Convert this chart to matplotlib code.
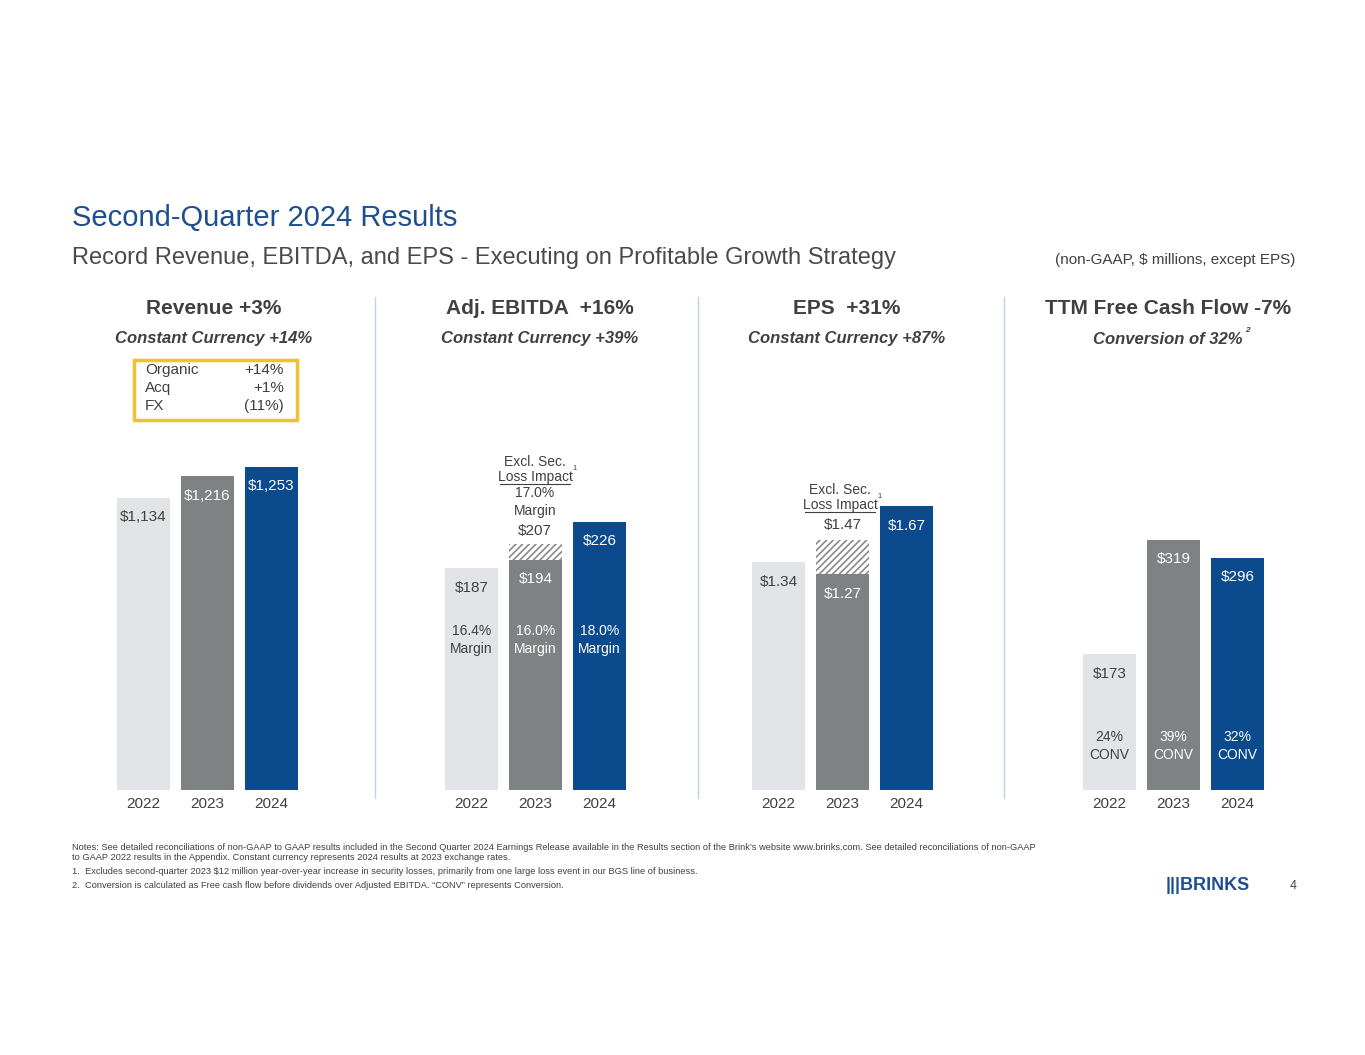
import matplotlib
matplotlib.use("Agg")
import matplotlib.pyplot as plt
from matplotlib.patches import Rectangle

plt.rcParams['font.family'] = ['Liberation Sans', 'DejaVu Sans']
plt.rcParams['hatch.color'] = '#8a8a8a'
plt.rcParams['hatch.linewidth'] = 1.2

W, H = 1365, 1055
years = ["2022", "2023", "2024"]
revenue = [1134, 1216, 1253]
ebitda = [187, 194, 226]
ebitda_excl = 207
ebitda_margin = ["16.4%\nMargin", "16.0%\nMargin", "18.0%\nMargin"]
eps = [1.34, 1.27, 1.67]
eps_excl = 1.47
fcf = [173, 319, 296]
fcf_conv = ["24%\nCONV", "39%\nCONV", "32%\nCONV"]

LIGHT, GRAY, BLUE = '#e1e3e6', '#7f8282', '#0c4a8e'
colors = [LIGHT, GRAY, BLUE]
TXT = '#404040'

fig = plt.figure(figsize=(W / 100, H / 100), dpi=100)


def T(x, y, s, **kw):
    kw.setdefault('color', TXT)
    kw.setdefault('va', 'center')
    fig.text(x / W, 1 - y / H, s, **kw)


def panel(left_px, values, ymax, labels, lblcolors, excl=None):
    # axes spans y 440..790 px, bar slots 64 px wide
    ax = fig.add_axes([left_px / W, 1 - 790 / H, 192 / W, 350 / H])
    ax.bar([0.5, 1.5, 2.5], values, width=53 / 64, color=colors)
    if excl is not None:
        ax.bar(1.5, excl - values[1], bottom=values[1], width=53 / 64,
               color='white', hatch='/////', edgecolor='#8a8a8a', linewidth=0)
    ax.set_xlim(0, 3)
    ax.set_ylim(0, ymax)
    ax.axis('off')
    for i, (v, s) in enumerate(zip(values, labels)):
        ax.annotate(s, (i + 0.5, v), xytext=(0, -14), textcoords='offset points',
                    ha='center', va='center', fontsize=11, color=lblcolors[i])
    for i, y in enumerate(years):
        T(left_px + 32 + 64 * i, 804, y, ha='center', fontsize=11)
    return ax


def excl_note(x, y):
    T(x, y, "Excl. Sec.", ha='center', fontsize=10)
    T(x, y + 15, "Loss Impact", ha='center', fontsize=10)
    T(x + 37, y + 7, "1", ha='left', fontsize=5.5)
    fig.add_artist(plt.Line2D([(x - 35) / W, (x + 35) / W], [1 - (y + 22) / H] * 2,
                              color=TXT, lw=0.8))


# header
T(72, 218, "Second-Quarter 2024 Results", fontsize=21, color='#1f4e8f')
T(72, 258, "Record Revenue, EBITDA, and EPS - Executing on Profitable Growth Strategy",
  fontsize=17, color='#4a4a4a')
T(1295, 260, "(non-GAAP, $ millions, except EPS)", fontsize=11, ha='right')

for x in [375, 698, 1004]:
    fig.add_artist(plt.Line2D([x / W] * 2, [1 - 297 / H, 1 - 798 / H], color='#bcd3ea', lw=1))

# panel titles
titles = [(214, "Revenue +3%", "Constant Currency +14%"),
          (540, "Adj. EBITDA  +16%", "Constant Currency +39%"),
          (847, "EPS  +31%", "Constant Currency +87%"),
          (1168, "TTM Free Cash Flow -7%", "Conversion of 32%")]
for x, t, s in titles:
    T(x, 309, t, ha='center', fontsize=15, fontweight='bold')
    T(x, 339, s, ha='center', fontsize=12, fontweight='bold', style='italic')
T(1245, 331, "2", ha='left', fontsize=6, fontweight='bold', style='italic')

# revenue
panel(111.5, revenue, 1357, ["$1,134", "$1,216", "$1,253"], [TXT, 'white', 'white'])
fig.add_artist(Rectangle((134 / W, 1 - 420 / H), 163 / W, 60 / H, fill=False,
                         edgecolor='#f2c12e', lw=2.5, transform=fig.transFigure))
for i, (a, b) in enumerate([("Organic", "+14%"), ("Acq", "+1%"), ("FX", "(11%)")]):
    T(145, 370 + 18 * i, a, fontsize=11)
    T(284, 370 + 18 * i, b, fontsize=11, ha='right')

# EBITDA
panel(439.5, ebitda, 295, ["$187", "$194", "$226"], [TXT, 'white', 'white'], ebitda_excl)
for i, m in enumerate(ebitda_margin):
    T(471.5 + 64 * i, 640, m, ha='center', fontsize=10,
      color=[TXT, 'white', 'white'][i], linespacing=1.3)
T(535, 531, "$207", ha='center', fontsize=11)
excl_note(535, 462)
T(535, 502, "17.0%\nMargin", ha='center', fontsize=10, linespacing=1.3)

# EPS
panel(746.5, eps, 2.06, ["$1.34", "$1.27", "$1.67"], [TXT, 'white', 'white'], eps_excl)
T(843, 525, "$1.47", ha='center', fontsize=11)
excl_note(840, 490)

# FCF
panel(1077.5, fcf, 446, ["$173", "$319", "$296"], [TXT, 'white', 'white'])
for i, c in enumerate(fcf_conv):
    T(1109.5 + 64 * i, 746, c, ha='center', fontsize=10,
      color=[TXT, 'white', 'white'][i], linespacing=1.3)

# notes
notes = [(848, "Notes: See detailed reconciliations of non-GAAP to GAAP results included in the Second Quarter 2024 Earnings Release available in the Results section of the Brink\u2019s website www.brinks.com. See detailed reconciliations of non-GAAP"),
         (858, "to GAAP 2022 results in the Appendix. Constant currency represents 2024 results at 2023 exchange rates."),
         (871, "1.  Excludes second-quarter 2023 $12 million year-over-year increase in security losses, primarily from one large loss event in our BGS line of business."),
         (885, "2.  Conversion is calculated as Free cash flow before dividends over Adjusted EBITDA. \u201cCONV\u201d represents Conversion.")]
for y, s in notes:
    T(72, y, s, fontsize=6.7)
T(1166, 886, "|||BRINKS", fontsize=13, fontweight='bold', color='#1f4e8f')
T(1290, 886, "4", fontsize=9)

fig.savefig("out.png", dpi=100)
